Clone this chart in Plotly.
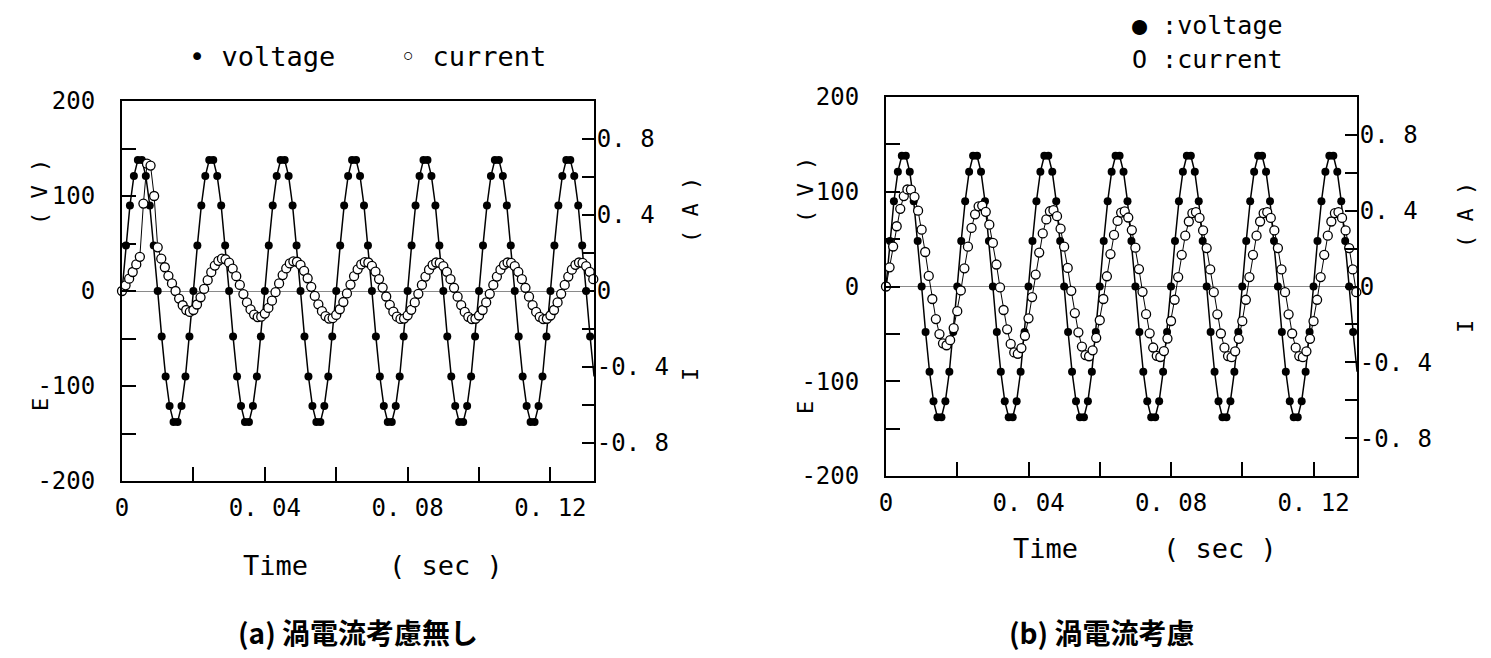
import plotly.graph_objects as go

# ---------------- data ----------------
volt_time_ms = [
    0.00, 1.11, 2.22, 3.33, 4.44, 5.56, 6.67, 7.78, 8.89,
    10.00, 11.11, 12.22, 13.33, 14.44, 15.56, 16.67, 17.78, 18.89,
    20.00, 21.11, 22.22, 23.33, 24.44, 25.56, 26.67, 27.78, 28.89,
    30.00, 31.11, 32.22, 33.33, 34.44, 35.56, 36.67, 37.78, 38.89,
    40.00, 41.11, 42.22, 43.33, 44.44, 45.56, 46.67, 47.78, 48.89,
    50.00, 51.11, 52.22, 53.33, 54.44, 55.56, 56.67, 57.78, 58.89,
    60.00, 61.11, 62.22, 63.33, 64.44, 65.56, 66.67, 67.78, 68.89,
    70.00, 71.11, 72.22, 73.33, 74.44, 75.56, 76.67, 77.78, 78.89,
    80.00, 81.11, 82.22, 83.33, 84.44, 85.56, 86.67, 87.78, 88.89,
    90.00, 91.11, 92.22, 93.33, 94.44, 95.56, 96.67, 97.78, 98.89,
    100.00, 101.11, 102.22, 103.33, 104.44, 105.56, 106.67, 107.78, 108.89,
    110.00, 111.11, 112.22, 113.33, 114.44, 115.56, 116.67, 117.78, 118.89,
    120.00, 121.11, 122.22, 123.33, 124.44, 125.56, 126.67, 127.78, 128.89,
    130.00, 131.11, 132.22,
]

voltage_V = [
    0, 48, 90, 121, 138, 138, 121, 90, 48, 0, -48, -90, -121, -138, -138, -121, -90, -48,
    0, 48, 90, 121, 138, 138, 121, 90, 48, 0, -48, -90, -121, -138, -138, -121, -90, -48,
    0, 48, 90, 121, 138, 138, 121, 90, 48, 0, -48, -90, -121, -138, -138, -121, -90, -48,
    0, 48, 90, 121, 138, 138, 121, 90, 48, 0, -48, -90, -121, -138, -138, -121, -90, -48,
    0, 48, 90, 121, 138, 138, 121, 90, 48, 0, -48, -90, -121, -138, -138, -121, -90, -48,
    0, 48, 90, 121, 138, 138, 121, 90, 48, 0, -48, -90, -121, -138, -138, -121, -90, -48,
    0, 48, 90, 121, 138, 138, 121, 90, 48, 0, -48, -90,
]

curr_time_ms = [
    0, 1, 2, 3, 4, 5, 6, 7, 8, 9, 10, 11, 12, 13, 14, 15, 16, 17, 18, 19,
    20, 21, 22, 23, 24, 25, 26, 27, 28, 29, 30, 31, 32, 33, 34, 35, 36, 37, 38, 39,
    40, 41, 42, 43, 44, 45, 46, 47, 48, 49, 50, 51, 52, 53, 54, 55, 56, 57, 58, 59,
    60, 61, 62, 63, 64, 65, 66, 67, 68, 69, 70, 71, 72, 73, 74, 75, 76, 77, 78, 79,
    80, 81, 82, 83, 84, 85, 86, 87, 88, 89, 90, 91, 92, 93, 94, 95, 96, 97, 98, 99,
    100, 101, 102, 103, 104, 105, 106, 107, 108, 109, 110, 111, 112, 113, 114, 115, 116, 117, 118, 119,
    120, 121, 122, 123, 124, 125, 126, 127, 128, 129, 130, 131, 132,
]

# (a) without eddy current
current_a_A = [
    0.0, 0.03, 0.065, 0.10, 0.14, 0.18, 0.46, 0.67, 0.66, 0.50, 0.23, 0.17, 0.125, 0.08, 0.04, 0.0, -0.04, -0.075, -0.10, -0.11,
    -0.10, -0.071, -0.033, 0.011, 0.057, 0.099, 0.134, 0.159, 0.17, 0.167, 0.149, 0.118, 0.078, 0.032, -0.016, -0.06, -0.097, -0.124, -0.137, -0.135,
    -0.119, -0.089, -0.051, -0.006, 0.04, 0.084, 0.119, 0.145, 0.156, 0.154, 0.137, 0.106, 0.067, 0.022, -0.026, -0.07, -0.106, -0.132, -0.145, -0.143,
    -0.126, -0.096, -0.058, -0.013, 0.034, 0.078, 0.114, 0.14, 0.152, 0.15, 0.132, 0.102, 0.063, 0.018, -0.029, -0.073, -0.109, -0.135, -0.147, -0.145,
    -0.128, -0.099, -0.06, -0.015, 0.032, 0.076, 0.112, 0.138, 0.15, 0.148, 0.131, 0.101, 0.062, 0.017, -0.03, -0.074, -0.11, -0.136, -0.148, -0.146,
    -0.129, -0.1, -0.06, -0.015, 0.032, 0.076, 0.112, 0.138, 0.15, 0.148, 0.131, 0.101, 0.062, 0.017, -0.03, -0.074, -0.11, -0.136, -0.148, -0.146,
    -0.129, -0.1, -0.06, -0.015, 0.032, 0.076, 0.112, 0.138, 0.15, 0.148, 0.131, 0.101, 0.062,
]

# (b) with eddy current
current_b_A = [
    0.0, 0.101, 0.211, 0.318, 0.41, 0.477, 0.512, 0.511, 0.473, 0.40, 0.30, 0.182, 0.056, -0.066, -0.172, -0.251, -0.30, -0.31, -0.283, -0.22,
    -0.13, -0.021, 0.096, 0.21, 0.309, 0.381, 0.423, 0.427, 0.394, 0.326, 0.23, 0.116, -0.005, -0.124, -0.226, -0.303, -0.348, -0.355, -0.325, -0.26,
    -0.168, -0.056, 0.063, 0.179, 0.28, 0.354, 0.397, 0.403, 0.371, 0.305, 0.21, 0.098, -0.023, -0.14, -0.242, -0.317, -0.362, -0.368, -0.337, -0.271,
    -0.178, -0.066, 0.054, 0.171, 0.272, 0.346, 0.39, 0.396, 0.364, 0.298, 0.205, 0.092, -0.028, -0.146, -0.247, -0.322, -0.366, -0.372, -0.341, -0.275,
    -0.182, -0.07, 0.05, 0.167, 0.268, 0.343, 0.387, 0.393, 0.362, 0.296, 0.203, 0.09, -0.03, -0.147, -0.248, -0.323, -0.367, -0.373, -0.342, -0.276,
    -0.183, -0.07, 0.05, 0.167, 0.268, 0.343, 0.387, 0.393, 0.362, 0.296, 0.203, 0.09, -0.03, -0.147, -0.248, -0.323, -0.367, -0.373, -0.342, -0.276,
    -0.183, -0.07, 0.05, 0.167, 0.268, 0.343, 0.387, 0.393, 0.362, 0.296, 0.203, 0.09, -0.03,
]

x_tick_vals = [0, 0.02, 0.04, 0.06, 0.08, 0.10, 0.12]
x_tick_text = ["0", "", "0. 04", "", "0. 08", "", "0. 12"]
e_tick_vals = [-200, -150, -100, -50, 0, 50, 100, 150, 200]
e_tick_text = ["-200", "", "-100", "", "0", "", "100", "", "200"]
i_tick_vals = [-1.0, -0.8, -0.6, -0.4, -0.2, 0.0, 0.2, 0.4, 0.6, 0.8, 1.0]
i_tick_text = ["", "-0. 8", "", "-0. 4", "", "0", "", "0. 4", "", "0. 8", ""]

assert len(volt_time_ms) == len(voltage_V)
assert len(curr_time_ms) == len(current_a_A) == len(current_b_A)

# ---------------- layout helpers ----------------
W, H = 1491, 658
OFF = 8  # page body margin offset in the browser
MONO = "DejaVu Sans Mono"
CJK = "Noto Sans CJK JP"


def px(x):
    return (x - OFF) / W


def py(y):
    return 1 - (y - OFF) / H


volt_t = [v / 1000.0 for v in volt_time_ms]
curr_t = [v / 1000.0 for v in curr_time_ms]

fig = go.Figure()

volt_style = dict(mode="lines+markers", line=dict(color="black", width=1.5),
                  marker=dict(size=8, color="black"), cliponaxis=False, showlegend=False,
                  hoverinfo="skip")
curr_style = dict(mode="lines+markers", line=dict(color="black", width=1),
                  marker=dict(size=9, color="white", line=dict(color="black", width=1.3)),
                  cliponaxis=False, showlegend=False, hoverinfo="skip")

fig.add_trace(go.Scatter(x=volt_t, y=voltage_V, xaxis="x", yaxis="y", name="voltage", **volt_style))
fig.add_trace(go.Scatter(x=curr_t, y=current_a_A, xaxis="x", yaxis="y2", name="current", **curr_style))
fig.add_trace(go.Scatter(x=volt_t, y=voltage_V, xaxis="x2", yaxis="y3", name="voltage", **volt_style))
fig.add_trace(go.Scatter(x=curr_t, y=current_b_A, xaxis="x2", yaxis="y4", name="current", **curr_style))

tickfont = dict(family=MONO, size=24, color="black")


def xaxis(dom, anchor):
    return dict(domain=dom, anchor=anchor, range=[0, 0.1322], showline=True, mirror=True,
                linecolor="black", linewidth=2, ticks="inside", ticklen=14, tickwidth=1.5,
                tickcolor="black", tickvals=x_tick_vals, ticktext=x_tick_text,
                tickfont=tickfont, showgrid=False, zeroline=False, ticklabelstandoff=4,
                automargin=False)


def eaxis(dom, anchor):
    return dict(domain=dom, anchor=anchor, range=[-200, 200], showline=True, linecolor="black",
                linewidth=2, ticks="inside", ticklen=14, tickwidth=1.5, tickcolor="black",
                tickvals=e_tick_vals, ticktext=e_tick_text, tickfont=tickfont, showgrid=False,
                zeroline=True, zerolinecolor="#8a8a8a", zerolinewidth=1, ticklabelstandoff=20,
                automargin=False)


def iaxis(over, anchor):
    return dict(overlaying=over, anchor=anchor, side="right", range=[-1, 1], showline=True,
                linecolor="black", linewidth=2, ticks="inside", ticklen=12, tickwidth=1.5,
                tickcolor="black", tickvals=i_tick_vals, ticktext=i_tick_text, tickfont=tickfont,
                showgrid=False, zeroline=False, ticklabelstandoff=-4, automargin=False)


fig.update_layout(
    template="none",
    width=W, height=H, margin=dict(l=0, r=0, t=0, b=0, pad=0, autoexpand=False),
    paper_bgcolor="white", plot_bgcolor="white", showlegend=False,
    xaxis=xaxis([px(122), px(594)], "y"),
    yaxis=eaxis([py(481), py(101)], "x"),
    yaxis2=iaxis("y", "x"),
    xaxis2=xaxis([px(886), px(1357)], "y3"),
    yaxis3=eaxis([py(476), py(97)], "x2"),
    yaxis4=iaxis("y3", "x2"),
)

ann = []


def txt(x, y, s, size=22, angle=0, font=MONO, xanchor="center"):
    ann.append(dict(x=px(x), y=py(y), xref="paper", yref="paper", text=s, showarrow=False,
                    textangle=angle, xanchor=xanchor, yanchor="middle", borderpad=0,
                    font=dict(family=font, size=size, color="black")))


# axis titles (rotated)
txt(40, 405, "E", 22, -90)
txt(40, 192, "( V )", 22, -90)
txt(690, 375, "I", 22, -90)
txt(690, 210, "( A )", 22, -90)
txt(805, 408, "E", 22, -90)
txt(805, 190, "( V )", 22, -90)
txt(1465, 327, "I", 22, -90)
txt(1465, 215, "( A )", 22, -90)

# time titles
txt(275, 565, "Time", 27)
txt(446, 565, "( sec )", 27)
txt(1045, 548, "Time", 27)
txt(1220, 548, "( sec )", 27)

# legends
txt(262, 56, "• voltage", 27)
txt(473, 56, "◦ current", 27)
txt(1284, 26, "● :voltage", 25, xanchor="right")
txt(1284, 60, "O :current", 25, xanchor="right")

# captions
txt(358, 632, "<b>(a) 渦電流考慮無し</b>", 28, font=CJK)
txt(1102, 632, "<b>(b) 渦電流考慮</b>", 28, font=CJK)

fig.update_layout(annotations=ann)

fig.write_html("out.html", config={"displayModeBar": False})
